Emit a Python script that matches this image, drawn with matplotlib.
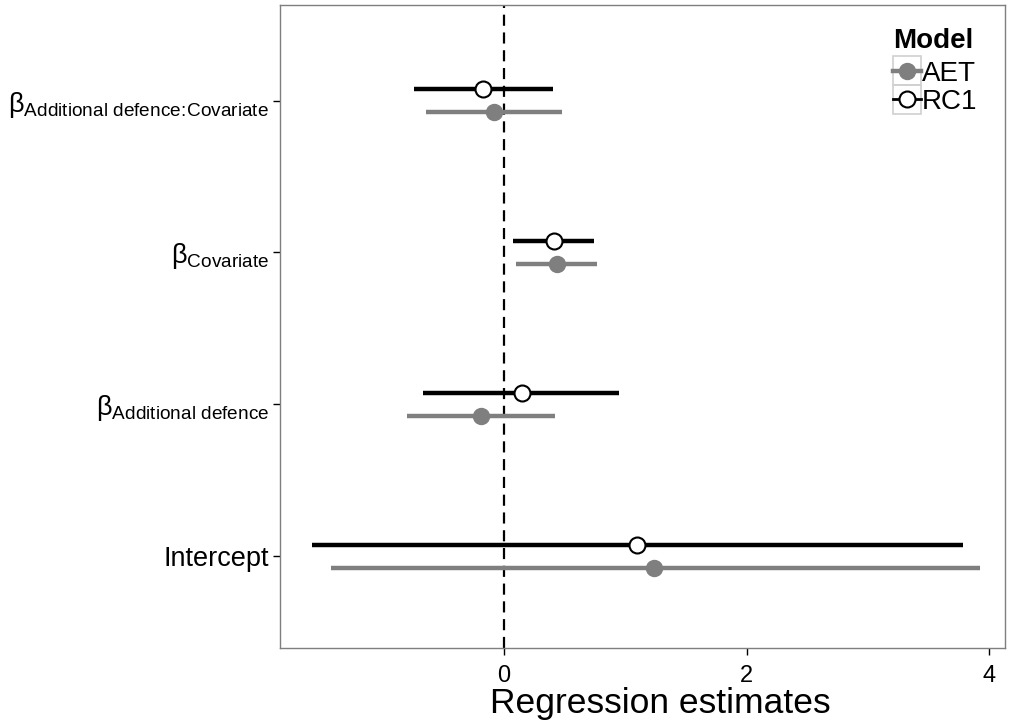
import numpy as np
import matplotlib.pyplot as plt
from matplotlib.lines import Line2D
from matplotlib.patches import Rectangle

plt.rcParams['font.family'] = ['Liberation Sans', 'DejaVu Sans']
plt.rcParams['mathtext.fontset'] = 'custom'
plt.rcParams['mathtext.rm'] = 'Liberation Sans'
plt.rcParams['mathtext.it'] = 'Liberation Sans:italic'

# parameters, bottom to top
terms = ['Intercept', 'Additional defence', 'Covariate', 'Additional defence:Covariate']
tick_labels = ['Intercept',
               r'β$_{\mathrm{Additional\ defence}}$',
               r'β$_{\mathrm{Covariate}}$',
               r'β$_{\mathrm{Additional\ defence\!:\!Covariate}}$']

# AET model estimates and intervals
aet_est = [1.24, -0.19, 0.44, -0.08]
aet_lo = [-1.43, -0.80, 0.10, -0.64]
aet_hi = [3.92, 0.42, 0.77, 0.48]

# RC1 model estimates and intervals
rc1_est = [1.10, 0.15, 0.41, -0.17]
rc1_lo = [-1.58, -0.67, 0.07, -0.74]
rc1_hi = [3.78, 0.95, 0.74, 0.40]

W, H = 1013, 723
fig = plt.figure(figsize=(W / 100, H / 100), dpi=100)
ax = fig.add_axes([280 / W, 1 - 648 / H, 725 / W, 643 / H])

y = np.arange(1, len(terms) + 1)
dodge = 0.075

ax.axvline(0, color='black', lw=1.6, ls=(0, (5, 3)), zorder=1)

# grey: AET, drawn slightly below
ax.hlines(y - dodge, aet_lo, aet_hi, color='#7f7f7f', lw=3.2, zorder=2)
ax.plot(aet_est, y - dodge, 'o', ms=11.5, mfc='#7f7f7f', mec='#7f7f7f', zorder=3)

# black: RC1, drawn slightly above
ax.hlines(y + dodge, rc1_lo, rc1_hi, color='black', lw=3.2, zorder=2)
ax.plot(rc1_est, y + dodge, 'o', ms=11.5, mfc='white', mec='black', mew=1.5, zorder=3)

ax.set_xlim(-1.847, 4.13)
ax.set_ylim(0.395, 4.63)
ax.set_xticks([0, 2, 4])
ax.set_yticks(y)
ax.set_yticklabels(tick_labels)
ax.tick_params(axis='both', labelsize=17, length=5, width=1, color='black', direction='out')
ax.tick_params(axis='y', labelsize=19.5, pad=3)
ax.tick_params(axis='x', pad=7)
for s in ax.spines.values():
    s.set_color('#7f7f7f')
    s.set_linewidth(1)

ax.set_xlabel('Regression estimates', fontsize=25.5)
ax.xaxis.label.set_va('baseline')
ax.xaxis.set_label_coords((660 - 280) / 725, -(713 - 648) / 643)

# legend key boxes, like ggplot
for top in (56, 85):
    fig.patches.append(Rectangle((893 / W, 1 - (top + 29) / H), 28 / W, 29 / H,
                                 transform=fig.transFigure, fill=False,
                                 ec='#d0d0d0', lw=1.2, zorder=0))

handles = [
    Line2D([], [], color='#7f7f7f', lw=3.2, marker='o', ms=11.5, mfc='#7f7f7f', mec='#7f7f7f'),
    Line2D([], [], color='black', lw=2, marker='o', ms=11.5, mfc='white', mec='black', mew=1.5),
]
leg = fig.legend(handles, ['AET', 'RC1'], title='Model', loc='upper left',
                 bbox_to_anchor=(893 / W, 1 - 28 / H), frameon=False, fontsize=20,
                 handlelength=1.0, handletextpad=0.05, labelspacing=0.06,
                 borderpad=0, borderaxespad=0)
leg.get_title().set_fontsize(20)
leg.get_title().set_fontweight('bold')
leg._legend_box.align = 'left'
leg._legend_box.sep = 5

fig.savefig('out.png', dpi=100)
